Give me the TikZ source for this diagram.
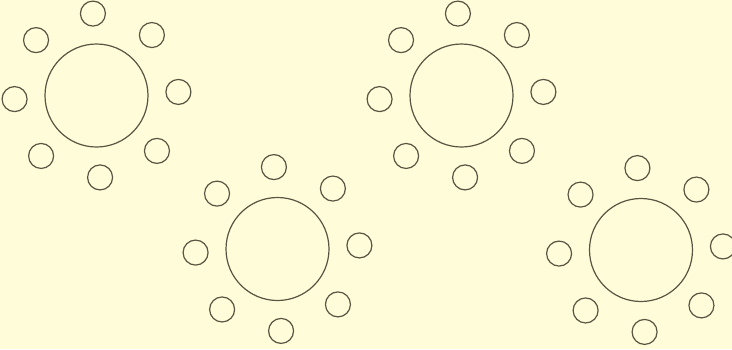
\documentclass[tikz,border=0pt]{standalone}
\definecolor{bg}{RGB}{255,252,218}
\definecolor{ink}{RGB}{88,86,66}
\tikzset{
  tablecirc/.style={circle, draw=ink, line width=1.2pt, minimum size=103pt, inner sep=0pt},
  chaircirc/.style={circle, draw=ink, line width=1.2pt, minimum size=25pt, inner sep=0pt}
}
\newcommand{\settable}[3]{%
  \node[tablecirc] (#1) at (#2,#3) {};
  \foreach \k in {0,...,7}{
    \node[chaircirc] (#1c\k) at ($(#1.center)+({2.5+45*\k}:82pt and -82pt)$) {};
  }
}
\usetikzlibrary{calc}
\begin{document}
\begin{tikzpicture}[x=1pt,y=-1pt]
\fill[bg] (0,0) rectangle (732,349);
\useasboundingbox (0,0) rectangle (732,349);
\node[tablecirc] (t1) at (96.5,95.5) {};
\node[tablecirc] (t2) at (277.5,249) {};
\node[tablecirc] (t3) at (461.5,95.5) {};
\node[tablecirc] (t4) at (641,250) {};
\foreach \t in {t1,t2,t3,t4}{
  \foreach \k in {0,...,7}{
    \node[chaircirc] (\t c\k) at ($(\t.center)+({2.5+45*\k}:82pt)$) {};
  }
}
\end{tikzpicture}
\end{document}
